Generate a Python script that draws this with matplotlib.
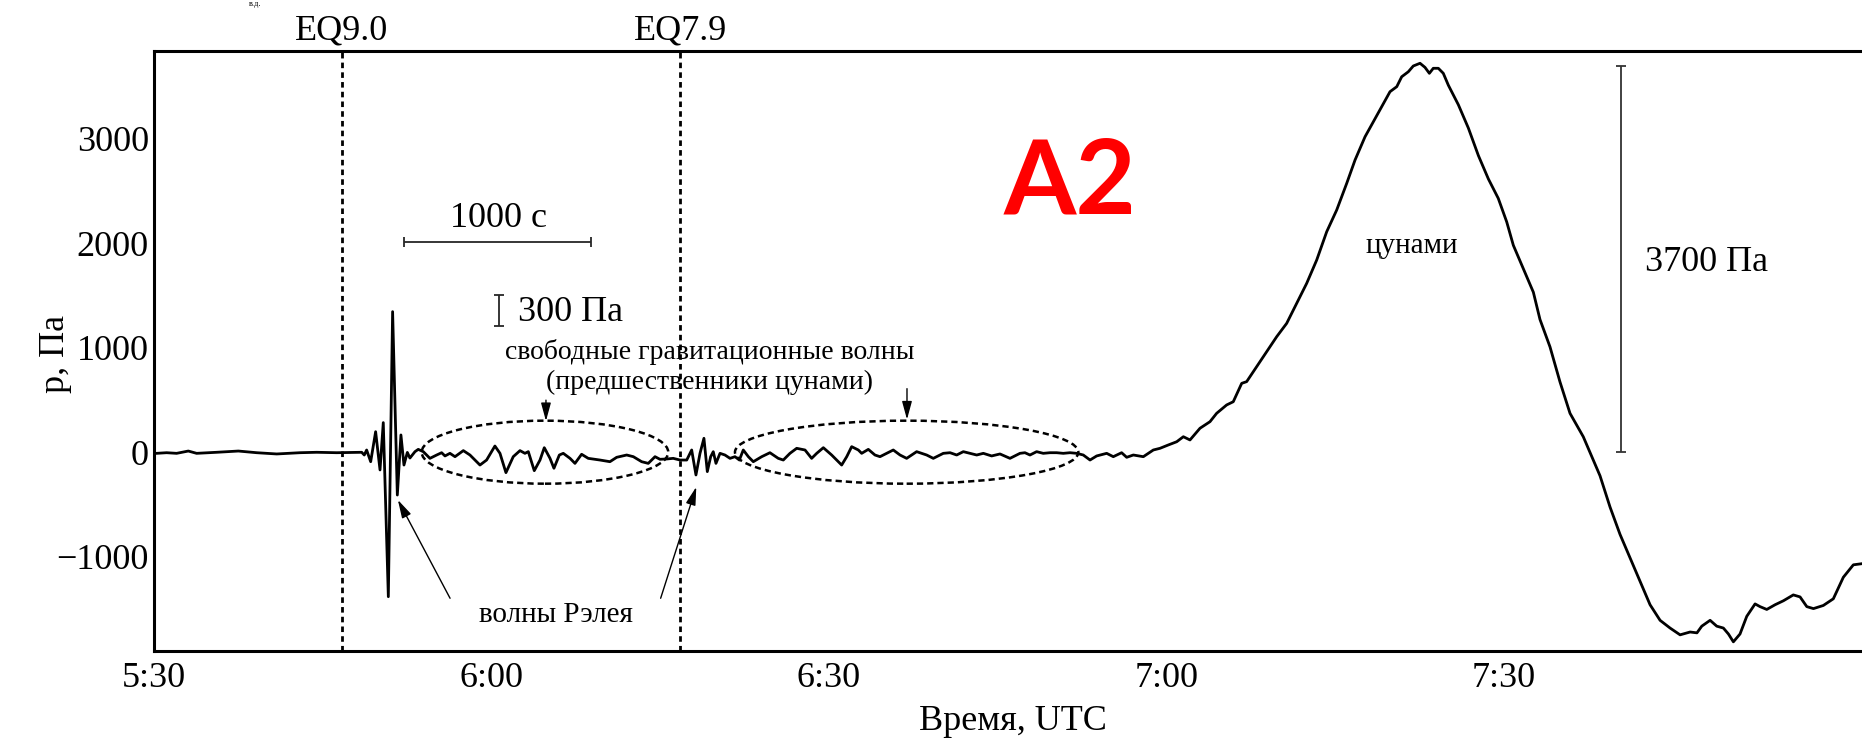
import matplotlib
matplotlib.use('Agg')
import matplotlib.pyplot as plt
from matplotlib.patches import Ellipse

# время в минутах после 5:30 UTC, давление в Па
t_min = [
    0.0, 0.20, 1.09, 1.98, 3.02, 3.76, 5.54, 7.47, 9.10, 10.88, 12.95, 14.44,
    16.21, 17.99, 18.44, 18.67, 18.88, 19.24, 19.68, 20.07, 20.36, 20.81, 21.19,
    21.61, 21.93, 22.20, 22.50, 22.73, 23.18, 23.47, 23.92, 24.51, 25.11, 25.55,
    25.85, 26.29, 26.74, 27.48, 28.07, 28.96, 29.55, 30.29, 30.74, 31.27, 31.92,
    32.52, 32.96, 33.26, 33.79, 34.30, 34.68, 35.19, 35.54, 36.02, 36.37, 36.97,
    37.41, 38.00, 38.59, 39.63, 40.52, 41.12, 42.01, 42.60, 43.34, 43.93, 44.53,
    44.97, 45.57, 46.15, 46.75, 47.35, 47.79, 48.17, 48.53, 48.88, 49.18, 49.48,
    49.71, 49.95, 50.31, 50.75, 51.20, 51.64, 52.03, 52.38, 52.83, 53.27, 54.02,
    54.75, 55.49, 55.94, 56.53, 57.13, 57.87, 58.46, 58.91, 59.50, 60.24, 60.69,
    61.13, 61.58, 62.02, 62.61, 62.91, 63.50, 64.09, 64.54, 65.13, 65.72, 66.32,
    66.91, 67.80, 68.69, 69.28, 70.17, 70.77, 71.36, 71.95, 72.54, 73.14, 73.73,
    74.47, 75.21, 76.10, 76.99, 77.43, 77.88, 78.47, 79.06, 79.66, 80.25, 80.84,
    81.44, 82.03, 82.62, 83.22, 83.81, 84.70, 85.29, 86.03, 86.48, 87.07, 87.96,
    88.85, 89.44, 90.18, 90.93, 91.52, 92.11, 93.00, 93.89, 94.48, 95.37, 95.96,
    96.71, 97.15, 98.04, 98.93, 99.82, 100.71, 101.60, 102.49, 103.38, 104.27,
    105.16, 106.05, 106.79, 107.68, 108.42, 109.16, 109.90, 110.50, 110.94,
    111.53, 111.97, 112.57, 113.01, 113.40, 113.75, 114.20, 114.64, 115.09,
    115.98, 116.87, 117.76, 118.65, 119.53, 120.28, 120.87, 121.76, 122.65,
    123.24, 124.13, 125.02, 125.91, 127.09, 127.84, 128.58, 129.47, 130.36,
    131.25, 132.14, 133.03, 133.92, 134.81, 135.70, 136.59, 137.20, 137.63,
    138.37, 138.96, 139.55, 140.00, 140.44, 141.03, 141.63, 142.37, 142.81,
    143.41, 144.15, 144.89, 145.77, 146.37, 146.97, 147.56, 148.44, 149.33,
    150.22, 151.11, 151.88,
]
p_pa = [
    -10, -9, -3, -9, 13, -9, 1, 13, -3, -15, -3, 1,
    -3, 1, 1, -25, 23, -89, 198, -168, 285, -1381, 1347,
    -408, 167, -121, 0, -54, 7, 29, 7, -57, -25, -3,
    -34, -9, -41, 17, -25, -121, -73, 61, -9, -194, -41,
    17, -9, 7, -175, -73, 45, -57, -152, -25, -9, -57,
    -105, -18, -57, -73, -89, -47, -25, -41, -89, -105, -41,
    -66, -63, -57, -73, -73, 23, -216, -9, 135, -184, -41,
    7, -105, -9, -25, -57, -41, -73, 23, -41, -89, -41,
    -3, -57, -73, -9, 39, 23, -57, -9, 45, -25, -73,
    -121, -41, 55, 23, -9, 29, -25, -41, -9, 23, -25,
    -57, 7, -25, -57, -9, -3, -25, 7, -9, -25, -9,
    -34, -15, -57, -9, -3, -25, 7, -9, -3, -3, -9,
    -3, -9, -25, -73, -34, -9, -41, -3, -47, -25, -41,
    23, 39, 71, 102, 150, 119, 231, 294, 374, 454, 485,
    661, 677, 820, 964, 1107, 1235, 1427, 1618, 1841, 2112,
    2320, 2575, 2798, 3021, 3165, 3308, 3452, 3500, 3595,
    3643, 3698, 3724, 3685, 3628, 3676, 3676, 3628, 3514,
    3327, 3104, 2841, 2617, 2431, 2206, 1982, 1757, 1533,
    1272, 1010, 674, 374, 150, -37, -224, -523, -785,
    -1009, -1234, -1458, -1607, -1681, -1746, -1719, -1727, -1663,
    -1607, -1663, -1681, -1738, -1813, -1738, -1569, -1450, -1476,
    -1503, -1458, -1420, -1364, -1383, -1476, -1495, -1465, -1401,
    -1195, -1076, -1065,
]

x_ticks = [0, 30, 60, 90, 120]
x_labels = ['5:30', '6:00', '6:30', '7:00', '7:30']
y_ticks = [-1000, 0, 1000, 2000, 3000]

eq_times = [16.68, 46.76]
eq_names = ['EQ9.0', 'EQ7.9']

plt.rcParams['font.family'] = ['Liberation Serif', 'DejaVu Serif']

fig = plt.figure(figsize=(18.62, 7.42), dpi=100)
ax = fig.add_axes([0.0829, 0.1226, 0.9171, 0.8086])

ax.plot(t_min, p_pa, color='black', lw=2.0, solid_joinstyle='round')

# моменты землетрясений
for t, name in zip(eq_times, eq_names):
    ax.axvline(t, color='black', lw=2, linestyle=(0, (2, 1.5)))
    ax.text(t, 1.02, name, transform=ax.get_xaxis_transform(),
            ha='center', va='baseline', fontsize=26)

# области свободных гравитационных волн
for cx, w in [(34.74, 21.93), (66.91, 30.54)]:
    ax.add_patch(Ellipse((cx, 2), width=w, height=603, fill=False,
                         edgecolor='black', lw=1.8, linestyle=(0, (2.5, 1.6))))

arrow_kw = dict(arrowstyle='-|>,head_length=0.55,head_width=0.15',
                color='black', lw=1, mutation_scale=20, shrinkA=0, shrinkB=0)
ax.annotate('', xy=(34.83, 300), xytext=(34.83, 500), arrowprops=arrow_kw)
ax.annotate('', xy=(66.94, 315), xytext=(66.94, 610), arrowprops=arrow_kw)
ax.text(49.37, 960, 'свободные гравитационные волны', ha='center', va='center', fontsize=20)
ax.text(49.37, 665, '(предшественники цунами)', ha='center', va='center', fontsize=20)

# волны Рэлея
ax.annotate('', xy=(21.66, -455), xytext=(26.3, -1396), arrowprops=arrow_kw)
ax.annotate('', xy=(48.2, -330), xytext=(45.03, -1396), arrowprops=arrow_kw)
ax.text(35.7, -1560, 'волны Рэлея', ha='center', va='center', fontsize=21)

# масштабные отрезки
ax.errorbar(30.52, 2013, xerr=8.34, color='0.15', lw=1.3, capsize=3.5, capthick=1.3)
ax.text(30.6, 2238, '1000 с', ha='center', va='center', fontsize=26)
ax.errorbar(30.63, 1357, yerr=150, color='0.15', lw=1.3, capsize=3.5, capthick=1.3)
ax.text(32.3, 1340, '300 Па', ha='left', va='center', fontsize=26)
ax.errorbar(130.45, 1850, yerr=1850, color='0.2', lw=1.3, capsize=3.5, capthick=1.3)
ax.text(132.58, 1820, '3700 Па', ha='left', va='center', fontsize=26)

ax.text(111.8, 1975, 'цунами', ha='center', va='center', fontsize=21)
ax.text(81.45, 2570, 'A2', ha='center', va='center', fontsize=75,
        color='#ff0000', fontweight='bold', family=['Lato', 'DejaVu Sans'])
fig.text(0.137, 0.995, 'в.д.', ha='center', va='center', fontsize=6)

ax.set_xlim(0, 151.88)
ax.set_ylim(-1901, 3841)
ax.set_xticks(x_ticks)
ax.set_xticklabels(x_labels)
ax.set_yticks(y_ticks)
ax.tick_params(length=0, labelsize=26)
ax.tick_params(axis='x', pad=8)
ax.tick_params(axis='y', pad=4)

for side in ['left', 'top', 'bottom']:
    ax.spines[side].set_linewidth(2.2)
ax.spines['right'].set_visible(False)

ax.set_xlabel('Время, UTC', fontsize=26)
ax.xaxis.set_label_coords(0.503, -0.118)
ax.xaxis.label.set_va('center')
ax.set_ylabel('p, Па', fontsize=26)
ax.yaxis.set_label_coords(-0.0576, 0.495)
ax.yaxis.label.set_va('center')

fig.savefig('out.png', dpi=100)
